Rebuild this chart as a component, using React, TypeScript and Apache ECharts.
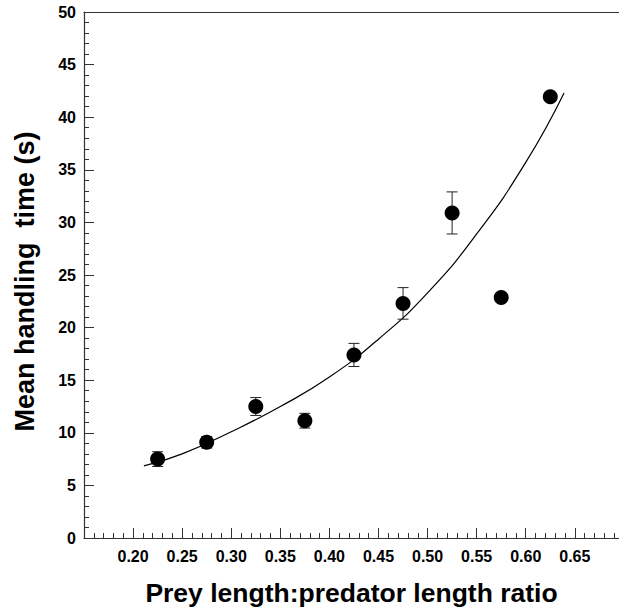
import React, { useEffect, useRef } from "react";
import * as echarts from "echarts";

const xTicks = [0.2, 0.25, 0.3, 0.35, 0.4, 0.45, 0.5, 0.55, 0.6, 0.65];
const ratio = [0.225, 0.275, 0.325, 0.375, 0.425, 0.475, 0.525, 0.575, 0.625];
const meanTime = [7.5, 9.1, 12.5, 11.15, 17.4, 22.3, 30.9, 22.85, 41.95];
const stdErr = [0.7, 0.55, 0.85, 0.7, 1.1, 1.5, 2.0, 0, 0];
const fitX = [0.211, 0.25, 0.3, 0.35, 0.4, 0.45, 0.5, 0.55, 0.6, 0.639];
const fitY = [6.85, 8.0, 10.1, 12.5, 15.3, 18.9, 23.3, 28.9, 35.7, 42.3];

const FONT = "'Liberation Sans', Arial, Helvetica, sans-serif";

export default function App() {
  const ref = useRef<HTMLDivElement>(null);
  useEffect(() => {
    if (!ref.current) return;
    const chart = echarts.init(ref.current, undefined, { renderer: "svg" });
    const axisColor = "#333";
    chart.setOption({
      animation: false,
      backgroundColor: "#fff",
      grid: { left: 84, top: 12, width: 535, height: 528, containLabel: false },
      graphic: [
        {
          type: "text",
          x: 25,
          y: 281.5,
          rotation: Math.PI / 2,
          style: {
            text: "Mean handling  time (s)",
            fontFamily: FONT,
            fontWeight: "bold",
            fontSize: 27,
            fill: "#000",
            align: "center",
            verticalAlign: "middle",
          },
        },
      ],
      xAxis: [
        {
          type: "value",
          min: 0.15,
          max: 0.695,
          interval: 0.05,
          position: "bottom",
          name: "Prey length:predator length ratio",
          nameLocation: "middle",
          nameGap: 41,
          nameTextStyle: { fontFamily: FONT, fontWeight: "bold", fontSize: 26.5, color: "#000" },
          axisLine: { show: true, lineStyle: { color: axisColor, width: 1.2 } },
          axisTick: { show: true, inside: true, length: 10, lineStyle: { color: axisColor } },
          minorTick: { show: true, splitNumber: 5, length: 5, lineStyle: { color: axisColor } },
          splitLine: { show: false },
          axisLabel: {
            margin: 10,
            fontFamily: FONT,
            fontWeight: "bold",
            fontSize: 16,
            color: "#000",
            showMaxLabel: false,
            formatter: (v: number) => {
              const hit = xTicks.find((t) => Math.abs(t - v) < 1e-6);
              return hit === undefined ? "" : hit.toFixed(2);
            },
          },
        },
        {
          type: "value",
          min: 0.15,
          max: 0.695,
          position: "top",
          axisLine: { show: true, lineStyle: { color: axisColor, width: 1.2 } },
          axisTick: { show: false },
          axisLabel: { show: false },
          splitLine: { show: false },
        },
      ],
      yAxis: {
        type: "value",
        min: 0,
        max: 50,
        interval: 5,
        axisLine: { show: true, lineStyle: { color: axisColor, width: 1.2 } },
        axisTick: { show: true, inside: true, length: 10, lineStyle: { color: axisColor } },
        minorTick: { show: true, splitNumber: 5, length: 5, lineStyle: { color: axisColor } },
        splitLine: { show: false },
        axisLabel: { margin: 8, fontFamily: FONT, fontWeight: "bold", fontSize: 16, color: "#000" },
      },
      series: [
        {
          type: "line",
          data: fitX.map((x, i) => [x, fitY[i]]),
          smooth: true,
          symbol: "none",
          lineStyle: { color: "#000", width: 1.2 },
          z: 1,
        },
        {
          type: "custom",
          data: ratio.map((x, i) => [x, meanTime[i], stdErr[i]]),
          renderItem: (params: any, api: any) => {
            const x = api.value(0);
            const y = api.value(1);
            const e = api.value(2);
            if (!e) return { type: "group", children: [] };
            const lo = api.coord([x, y - e]);
            const hi = api.coord([x, y + e]);
            const w = 5.5;
            const style = { stroke: "#222", lineWidth: 1 };
            return {
              type: "group",
              children: [
                { type: "line", shape: { x1: lo[0], y1: lo[1], x2: hi[0], y2: hi[1] }, style },
                { type: "line", shape: { x1: lo[0] - w, y1: lo[1], x2: lo[0] + w, y2: lo[1] }, style },
                { type: "line", shape: { x1: hi[0] - w, y1: hi[1], x2: hi[0] + w, y2: hi[1] }, style },
              ],
            };
          },
          z: 2,
        },
        {
          type: "scatter",
          data: ratio.map((x, i) => [x, meanTime[i]]),
          symbol: "circle",
          symbolSize: 15,
          itemStyle: { color: "#000", opacity: 1 },
          z: 3,
        },
      ],
    });
    return () => chart.dispose();
  }, []);
  return (
    <div
      ref={ref}
      style={{ position: "fixed", left: 0, top: 0, width: 619, height: 611, background: "#fff" }}
    />
  );
}
